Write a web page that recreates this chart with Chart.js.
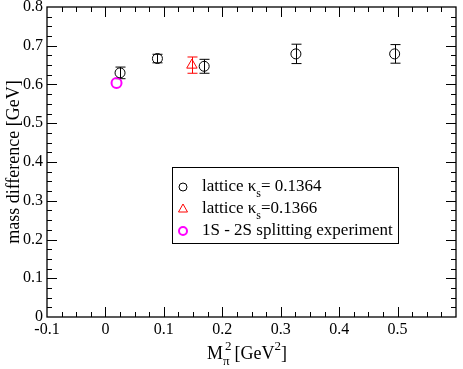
<!DOCTYPE html>
<html>
<head>
<meta charset="utf-8">
<script src="https://cdn.jsdelivr.net/npm/chart.js@4/dist/chart.umd.min.js"></script>
<style>
  html, body { margin: 0; padding: 0; background: #fff; }
  #c { display: block; }
</style>
</head>
<body>
<canvas id="c" width="463" height="369"></canvas>
<script>
// ---- data ----
const latticeX   = [0.025, 0.089, 0.169, 0.326, 0.495];
const latticeY   = [0.630, 0.667, 0.647, 0.679, 0.679];
const latticeErr = [0.015, 0.011, 0.018, 0.025, 0.024];

const lattice2X   = [0.148];
const lattice2Y   = [0.650];
const lattice2Err = [0.021];

const expX = [0.019];
const expY = [0.604];

const xTicksMin = -0.1, xTicksMax = 0.6, xStep = 0.1;
const yTicksMin = 0, yTicksMax = 0.8, yStep = 0.1;

const legendLabels = [
  { pre: 'lattice κ', sub: 's', post: '= 0.1364' },
  { pre: 'lattice κ', sub: 's', post: '=0.1366' },
  { pre: '1S - 2S splitting experiment', sub: '', post: '' }
];

const SERIF = "'Liberation Serif', 'Times New Roman', serif";

function pts(xs, ys) { return xs.map((x, i) => ({ x: x, y: ys[i] })); }

const errorBarPlugin = {
  id: 'errorBars',
  beforeDatasetsDraw(chart) {
    const ctx = chart.ctx;
    const ys = chart.scales.y;
    chart.data.datasets.forEach((ds, i) => {
      if (!ds.err) return;
      const meta = chart.getDatasetMeta(i);
      ctx.save();
      ctx.strokeStyle = ds.borderColor;
      ctx.lineWidth = 1;
      meta.data.forEach((el, j) => {
        const v = ds.data[j].y, e = ds.err[j];
        const x = Math.round(el.x) + 0.5;
        const yt = ys.getPixelForValue(v + e);
        const yb = ys.getPixelForValue(v - e);
        ctx.beginPath();
        ctx.moveTo(x, yt); ctx.lineTo(x, yb);
        ctx.moveTo(x - 5, yt); ctx.lineTo(x + 5, yt);
        ctx.moveTo(x - 5, yb); ctx.lineTo(x + 5, yb);
        ctx.stroke();
      });
      ctx.restore();
    });
  }
};

const framePlugin = {
  id: 'frame',
  afterDraw(chart) {
    const ctx = chart.ctx;
    const a = chart.chartArea;
    const xs = chart.scales.x, ys = chart.scales.y;
    ctx.save();
    ctx.strokeStyle = '#000';
    ctx.lineWidth = 1.3;
    ctx.strokeRect(a.left, a.top, a.right - a.left, a.bottom - a.top);
    ctx.lineWidth = 1;
    ctx.beginPath();
    // x ticks (major 0.1, minor 0.025)
    for (let k = 0; k <= 28; k++) {
      const v = xTicksMin + k * 0.025;
      const px = Math.round(xs.getPixelForValue(v)) + 0.5;
      const len = (k % 4 === 0) ? 10 : 5;
      if (k === 0 || k === 28) continue;
      ctx.moveTo(px, a.bottom); ctx.lineTo(px, a.bottom - len);
      ctx.moveTo(px, a.top); ctx.lineTo(px, a.top + len);
    }
    for (let k = 0; k <= 32; k++) {
      const v = yTicksMin + k * 0.025;
      const py = Math.round(ys.getPixelForValue(v)) + 0.5;
      const len = (k % 4 === 0) ? 10 : 5;
      if (k === 0 || k === 32) continue;
      ctx.moveTo(a.left, py); ctx.lineTo(a.left + len, py);
      ctx.moveTo(a.right, py); ctx.lineTo(a.right - len, py);
    }
    ctx.stroke();

    // axis titles
    ctx.fillStyle = '#000';
    ctx.textBaseline = 'alphabetic';
    // y title
    ctx.save();
    ctx.translate(19, (a.top + a.bottom) / 2);
    ctx.rotate(-Math.PI / 2);
    ctx.font = '18px ' + SERIF;
    ctx.textAlign = 'center';
    ctx.fillText('mass difference [GeV]', 0, 0);
    ctx.restore();
    // x title: M_pi^2 [GeV^2]
    let x = 207, base = 359;
    ctx.textAlign = 'left';
    ctx.font = '18px ' + SERIF;
    ctx.fillText('M', x, base); x += ctx.measureText('M').width;
    ctx.font = '13px ' + SERIF;
    ctx.fillText('π', x, base + 6);
    ctx.fillText('2', x + 2, base - 9);
    x += ctx.measureText('π').width + 5;
    ctx.font = '18px ' + SERIF;
    ctx.fillText('[GeV', x, base); x += ctx.measureText('[GeV').width;
    ctx.font = '13px ' + SERIF;
    ctx.fillText('2', x, base - 9); x += ctx.measureText('2').width;
    ctx.font = '18px ' + SERIF;
    ctx.fillText(']', x, base);

    // legend box
    const L = { left: 172, top: 167, right: 398, bottom: 243 };
    ctx.lineWidth = 1;
    ctx.strokeStyle = '#000';
    ctx.strokeRect(L.left + 0.5, L.top + 0.5, L.right - L.left, L.bottom - L.top);
    const rows = [187, 209, 231];
    const ds = chart.data.datasets;
    rows.forEach((ry, i) => {
      const d = ds[i];
      ctx.save();
      ctx.strokeStyle = d.borderColor;
      ctx.lineWidth = d.borderWidth;
      ctx.beginPath();
      if (d.pointStyle === 'triangle') {
        ctx.moveTo(183, ry - 5); ctx.lineTo(187.5, ry + 3); ctx.lineTo(178.5, ry + 3); ctx.closePath();
      } else {
        ctx.arc(183, ry, 4, 0, Math.PI * 2);
      }
      ctx.stroke();
      ctx.restore();
      const lab = legendLabels[i];
      let tx = 202, tb = ry + 4;
      ctx.font = '17px ' + SERIF;
      ctx.fillText(lab.pre, tx, tb); tx += ctx.measureText(lab.pre).width;
      if (lab.sub) {
        ctx.font = '12px ' + SERIF;
        ctx.fillText(lab.sub, tx, tb + 6); tx += ctx.measureText(lab.sub).width;
        ctx.font = '17px ' + SERIF;
        ctx.fillText(lab.post, tx, tb);
      }
    });
    ctx.restore();
  }
};

function fmt(v) {
  if (Math.abs(v) < 1e-9) return '0';
  return (Math.round(v * 10) / 10).toFixed(1);
}

new Chart(document.getElementById('c'), {
  type: 'scatter',
  data: {
    datasets: [
      {
        label: 'lattice 0.1364',
        data: pts(latticeX, latticeY),
        err: latticeErr,
        pointStyle: 'circle',
        pointRadius: 5,
        borderColor: '#000000',
        backgroundColor: 'rgba(0,0,0,0)',
        borderWidth: 1
      },
      {
        label: 'lattice 0.1366',
        data: pts(lattice2X, lattice2Y),
        err: lattice2Err,
        pointStyle: 'triangle',
        pointRadius: 6,
        borderColor: '#ff0000',
        backgroundColor: 'rgba(0,0,0,0)',
        borderWidth: 1
      },
      {
        label: 'experiment',
        data: pts(expX, expY),
        pointStyle: 'circle',
        pointRadius: 5,
        borderColor: '#ff00ff',
        backgroundColor: 'rgba(0,0,0,0)',
        borderWidth: 2
      }
    ]
  },
  options: {
    responsive: false,
    animation: false,
    devicePixelRatio: 1,
    layout: { padding: { left: 0, right: 2, top: 5, bottom: 0 } },
    plugins: { legend: { display: false }, tooltip: { enabled: false } },
    scales: {
      x: {
        type: 'linear',
        min: xTicksMin, max: xTicksMax,
        grid: { display: false, drawTicks: false },
        border: { display: false },
        ticks: {
          stepSize: xStep,
          padding: 3,
          color: '#000',
          font: { family: SERIF, size: 16 },
          maxRotation: 0,
          callback: (v) => (v > 0.55 ? '' : fmt(v))
        },
        afterFit(s) { s.height = 52; s.paddingLeft = 0; s.paddingRight = 0; s.paddingTop = 0; s.paddingBottom = 0; }
      },
      y: {
        type: 'linear',
        min: yTicksMin, max: yTicksMax,
        grid: { display: false, drawTicks: false },
        border: { display: false },
        ticks: {
          stepSize: yStep,
          padding: 4,
          color: '#000',
          font: { family: SERIF, size: 16 },
          callback: (v) => fmt(v)
        },
        afterFit(s) { s.width = 47; s.paddingLeft = 0; s.paddingRight = 0; s.paddingTop = 0; s.paddingBottom = 0; }
      }
    }
  },
  plugins: [errorBarPlugin, framePlugin]
});
</script>
</body>
</html>
